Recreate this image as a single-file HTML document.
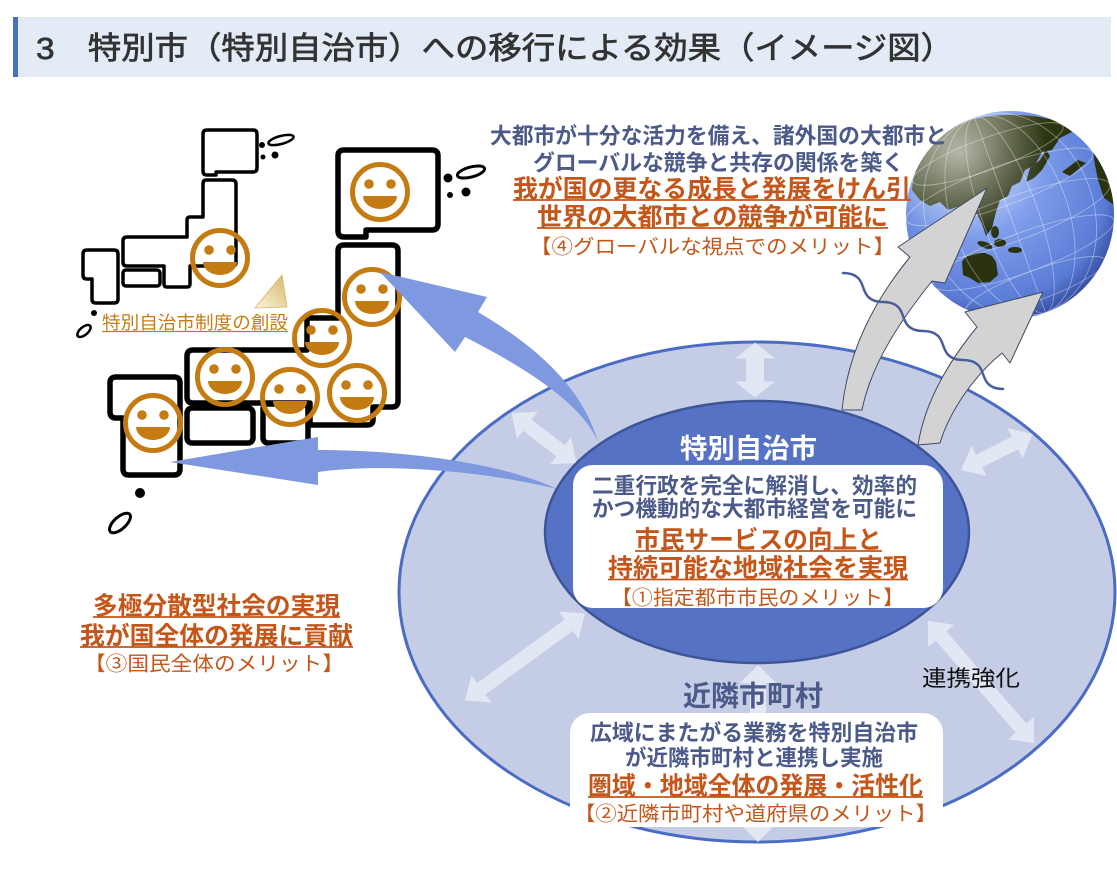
<!DOCTYPE html>
<html lang="ja">
<head>
<meta charset="utf-8">
<title>特別市への移行による効果</title>
<style>
  html,body{margin:0;padding:0;background:#fff;}
  body{width:1117px;height:886px;overflow:hidden;}
  svg{display:block;}
  text{font-family:"Liberation Sans","Noto Sans CJK JP",sans-serif;}
</style>
</head>
<body>
<svg xmlns="http://www.w3.org/2000/svg" width="1117" height="886" viewBox="0 0 1117 886">
  <defs>
    <radialGradient id="ocean" cx="0.42" cy="0.38" r="0.7" fx="0.32" fy="0.28">
      <stop offset="0" stop-color="#A9C0F4"/>
      <stop offset="0.4" stop-color="#7E9DEA"/>
      <stop offset="0.8" stop-color="#5A7CD6"/>
      <stop offset="1" stop-color="#22378A"/>
    </radialGradient>
    <radialGradient id="hl" cx="0.26" cy="0.2" r="0.42">
      <stop offset="0" stop-color="#ffffff" stop-opacity="0.6"/>
      <stop offset="1" stop-color="#ffffff" stop-opacity="0"/>
    </radialGradient>
    <linearGradient id="land" x1="0" y1="0" x2="1" y2="1">
      <stop offset="0" stop-color="#6A6E4C"/>
      <stop offset="0.45" stop-color="#2F3814"/>
      <stop offset="1" stop-color="#1C240A"/>
    </linearGradient>
    <linearGradient id="tri" x1="0" y1="1" x2="1" y2="0">
      <stop offset="0" stop-color="#FBF4DE"/>
      <stop offset="1" stop-color="#D6B868"/>
    </linearGradient>
    <clipPath id="gc"><circle cx="1010" cy="215" r="104"/></clipPath>
    <g id="sm">
      <circle cx="0" cy="0" r="27.5" fill="none" stroke="#C47B12" stroke-width="5"/>
      <circle cx="-11" cy="-8" r="4.8" fill="#C47B12"/>
      <circle cx="11" cy="-8" r="4.8" fill="#C47B12"/>
      <path d="M-17,4 A17,13 0 0 0 17,4 Z" fill="#C47B12"/>
    </g>
  </defs>

  <!-- Header -->
  <rect x="13" y="17" width="1098" height="60" fill="#E3EBF7"/>
  <rect x="13" y="17" width="5" height="60" fill="#4A72B8"/>
  <text x="36" y="59" font-size="31" fill="#333" stroke="#333" stroke-width="0.7" textLength="918" lengthAdjust="spacingAndGlyphs">3　特別市（特別自治市）への移行による効果（イメージ図）</text>

  <!-- Small top-left map -->
  <g fill="none" stroke="#000" stroke-width="3.5" stroke-linejoin="round">
    <path d="M207,130 H253 Q257,130 257,134 V168 Q257,172 253,172 H216 V175 H207 Q203,175 203,171 V134 Q203,130 207,130 Z"/>
    <path d="M206,180 H232 Q236,180 236,184 V262 Q236,266 232,266 H190 V284 Q190,287 187,287 H167 Q164,287 164,284 V266 H127 Q123,266 123,262 V241 Q123,237 127,237 H187 V220 Q187,217 190,217 H203 V184 Q203,180 206,180 Z"/>
    <rect x="123" y="270" width="37" height="16" rx="3"/>
    <path d="M87,250 H114 Q118,250 118,254 V299 Q118,303 114,303 H96 Q92,303 92,299 V279 H87 Q83,279 83,275 V254 Q83,250 87,250 Z"/>
    <ellipse cx="281" cy="140" rx="13" ry="4" transform="rotate(-15 281 140)" stroke-width="2.5"/>
    <ellipse cx="84" cy="331" rx="8" ry="4" transform="rotate(-40 84 331)" stroke-width="2.5"/>
  </g>
  <g fill="#000">
    <circle cx="262" cy="145" r="3"/>
    <circle cx="263" cy="157" r="2.5"/>
    <circle cx="275" cy="155" r="3.5"/>
    <circle cx="94" cy="313" r="3"/>
  </g>

  <!-- Main Japan map -->
  <g fill="none" stroke="#000" stroke-width="5.5" stroke-linejoin="round">
    <path d="M344,150 H432 Q438,150 438,156 V224 Q438,230 432,230 H366 V237 H344 Q338,237 338,231 V156 Q338,150 344,150 Z"/>
    <path d="M344,245 H392 Q398,245 398,251 V401 Q398,407 392,407 H373 V420 Q373,425 367,425 H310 V403 H193 Q187,403 187,397 V356 Q187,350 193,350 H307 V318 H338 V251 Q338,245 344,245 Z"/>
    <rect x="187" y="408" width="66" height="35" rx="5"/>
    <rect x="263" y="404" width="45" height="39" rx="5"/>
    <path d="M116,377 H174 Q180,377 180,383 V469 Q180,475 174,475 H129 Q123,475 123,469 V418 H116 Q110,418 110,412 V383 Q110,377 116,377 Z"/>
    <ellipse cx="471" cy="172" rx="14" ry="5" transform="rotate(-15 471 172)" stroke-width="3"/>
    <ellipse cx="120" cy="523" rx="13" ry="6" transform="rotate(-42 120 523)" stroke-width="3"/>
  </g>
  <g fill="#000">
    <circle cx="448" cy="178" r="4.5"/>
    <circle cx="450" cy="195" r="3"/>
    <circle cx="466" cy="192" r="4.5"/>
    <circle cx="140" cy="493" r="5"/>
  </g>

  <!-- Smileys -->
  <use href="#sm" transform="translate(380,192)"/>
  <use href="#sm" transform="translate(220,258)"/>
  <use href="#sm" transform="translate(372,297)"/>
  <use href="#sm" transform="translate(322,338)"/>
  <use href="#sm" transform="translate(225,377)"/>
  <use href="#sm" transform="translate(290,397)"/>
  <use href="#sm" transform="translate(357,393)"/>
  <use href="#sm" transform="translate(153,423)"/>

  <!-- small triangle + label -->
  <path d="M282,275 L287,307 L255,308 Z" fill="url(#tri)" stroke="#D6B660" stroke-width="0.8"/>
  <text x="102" y="329" font-size="18" fill="#C47D12" textLength="186" lengthAdjust="spacingAndGlyphs">特別自治市制度の創設</text>
  <line x1="102" y1="331.5" x2="288" y2="331.5" stroke="#C47D12" stroke-width="1.2"/>

  <!-- Outer ellipse -->
  <ellipse cx="757" cy="592" rx="358" ry="250" fill="#C5CDE6" stroke="#4A6CC4" stroke-width="3"/>

  <!-- light double arrows -->
  <g fill="#E2E7F4">
    <path transform="translate(755,370) rotate(90)" d="M-27.5,0 L-11.5,-20 L-11.5,-9 L11.5,-9 L11.5,-20 L27.5,0 L11.5,20 L11.5,9 L-11.5,9 L-11.5,20 Z"/>
    <path transform="translate(544,438) rotate(37.6)" d="M-41,0 L-21,-17 L-21,-7 L21,-7 L21,-17 L41,0 L21,17 L21,7 L-21,7 L-21,17 Z"/>
    <path transform="translate(997,452) rotate(-26.6)" d="M-40,0 L-20,-17 L-20,-7 L20,-7 L20,-17 L40,0 L20,17 L20,7 L-20,7 L-20,17 Z"/>
    <path transform="translate(525,657) rotate(-36)" d="M-74,0 L-54,-17 L-54,-7 L54,-7 L54,-17 L74,0 L54,17 L54,7 L-54,7 L-54,17 Z"/>
    <path transform="translate(981,682) rotate(49)" d="M-81,0 L-61,-17 L-61,-7 L61,-7 L61,-17 L81,0 L61,17 L61,7 L-61,7 L-61,17 Z"/>
    <path transform="translate(758,753.5) rotate(90)" d="M-88.5,0 L-70.5,-18 L-70.5,-8 L70.5,-8 L70.5,-18 L88.5,0 L70.5,18 L70.5,8 L-70.5,8 L-70.5,18 Z"/>
  </g>

  <!-- Globe -->
  <circle cx="1010" cy="215" r="104" fill="url(#ocean)"/>
  <g clip-path="url(#gc)">
    <path fill="url(#land)" d="M912,190 C914,160 935,132 970,120 C1000,112 1040,113 1068,125 L1072,132 L1060,138 L1052,150 L1042,152 L1035,165 L1025,170 L1020,182 L1012,186 L1008,196 L1000,200 L996,212 L992,228 L986,236 L982,224 L976,212 L968,214 L960,206 L948,210 L940,202 L930,206 L920,200 Z"/>
    <path fill="#2A3210" d="M1030,168 L1040,160 L1046,150 L1050,156 L1042,170 L1034,178 L1026,182 Z"/>
    <path fill="#2A3210" d="M962,262 C965,255 975,252 985,253 L992,256 L996,262 L998,275 L990,282 L978,283 L970,278 L963,275 Z"/>
    <path fill="#2A3210" d="M1092,145 L1100,138 L1112,150 L1116,175 L1114,205 L1104,198 L1098,180 L1095,165 Z"/>
    <path fill="#2A3210" d="M1062,172 L1078,160 L1086,163 L1070,176 Z"/>
    <g fill="#2A3210">
      <ellipse cx="985" cy="245" rx="8" ry="3" transform="rotate(20 985 245)"/>
      <ellipse cx="1000" cy="243" rx="6" ry="4"/>
      <ellipse cx="1015" cy="250" rx="7" ry="3"/>
      <ellipse cx="995" cy="232" rx="4" ry="6"/>
    </g>
    <g fill="none" stroke="#ffffff" stroke-opacity="0.38" stroke-width="0.9" transform="rotate(-20 1010 215)">
      <ellipse cx="1010" cy="215" rx="28" ry="104"/>
      <ellipse cx="1010" cy="215" rx="58" ry="104"/>
      <ellipse cx="1010" cy="215" rx="84" ry="104"/>
      <line x1="1010" y1="111" x2="1010" y2="319"/>
      <ellipse cx="1010" cy="150" rx="80" ry="16"/>
      <ellipse cx="1010" cy="185" rx="99" ry="20"/>
      <ellipse cx="1010" cy="220" rx="104" ry="22"/>
      <ellipse cx="1010" cy="255" rx="96" ry="20"/>
      <ellipse cx="1010" cy="290" rx="74" ry="15"/>
    </g>
    <circle cx="1010" cy="215" r="104" fill="url(#hl)"/>
  </g>

  <!-- Gray arrows -->
  <g fill="#D3D3D3" stroke="#3F4A63" stroke-width="1" stroke-linejoin="round">
    <path d="M987,188 L945,283 L932,281 C905,315 872,360 862,410 L842,410 C848,350 875,300 910,257 L898,247 Z"/>
    <path d="M1043,292 L1010,363 L1002,353 C975,375 950,410 940,443 L918,445 C925,400 950,360 977,327 L965,312 Z"/>
  </g>

  <!-- wave -->
  <path d="M843,273 c15,0 18,8 20,14 s5,15 20,15 c15,0 18,8 20,14 s5,15 20,15 c15,0 18,8 20,14 s5,15 20,15 c15,0 18,8 20,14 s5,15 20,15" fill="none" stroke="#4B5E9C" stroke-width="2.5" stroke-linecap="round"/>

  <!-- Blue arrows -->
  <g fill="#7F99E0">
    <path d="M380,272 L487,297 L478,312 C525,340 580,380 598,442 C585,410 540,375 465,337 L455,352 Z"/>
    <path d="M170,462 L318,437 L318,450 C400,450 500,462 557,489 C480,470 380,463 318,472 L318,485 Z"/>
  </g>

  <!-- Inner ellipse -->
  <ellipse cx="757" cy="532" rx="212" ry="131" fill="#5672C4" stroke="#3D5497" stroke-width="2.5"/>
  <text x="680" y="458" font-size="27" font-weight="bold" fill="#ffffff" textLength="137" lengthAdjust="spacingAndGlyphs">特別自治市</text>
  <rect x="573" y="465" width="370" height="143" rx="20" fill="#ffffff"/>
  <text x="592" y="493.4" font-size="22" font-weight="bold" fill="#4B5A88" textLength="325" lengthAdjust="spacingAndGlyphs">二重行政を完全に解消し、効率的</text>
  <text x="592" y="516.4" font-size="22" font-weight="bold" fill="#4B5A88" textLength="325" lengthAdjust="spacingAndGlyphs">かつ機動的な大都市経営を可能に</text>
  <text x="635" y="548.5" font-size="25" font-weight="bold" fill="#C4561A" textLength="247" lengthAdjust="spacingAndGlyphs">市民サービスの向上と</text>
  <line x1="635" y1="551" x2="882" y2="551" stroke="#C4561A" stroke-width="1.8"/>
  <text x="608" y="576.5" font-size="25" font-weight="bold" fill="#C4561A" textLength="300" lengthAdjust="spacingAndGlyphs">持続可能な地域社会を実現</text>
  <line x1="608" y1="579.5" x2="908" y2="579.5" stroke="#C4561A" stroke-width="1.8"/>
  <text x="611" y="604.6" font-size="20" fill="#C4561A" textLength="293" lengthAdjust="spacingAndGlyphs">【①指定都市市民のメリット】</text>

  <!-- Bottom -->
  <text x="683" y="705.6" font-size="28" font-weight="bold" fill="#4B5A88" textLength="140" lengthAdjust="spacingAndGlyphs">近隣市町村</text>
  <rect x="570" y="713" width="373" height="114" rx="20" fill="#ffffff"/>
  <text x="590" y="740.4" font-size="22" font-weight="bold" fill="#4B5A88" textLength="328" lengthAdjust="spacingAndGlyphs">広域にまたがる業務を特別自治市</text>
  <text x="625" y="765.4" font-size="22" font-weight="bold" fill="#4B5A88" textLength="258" lengthAdjust="spacingAndGlyphs">が近隣市町村と連携し実施</text>
  <text x="588" y="794.5" font-size="25" font-weight="bold" fill="#C4561A" textLength="335" lengthAdjust="spacingAndGlyphs">圏域・地域全体の発展・活性化</text>
  <line x1="588" y1="797" x2="923" y2="797" stroke="#C4561A" stroke-width="1.8"/>
  <text x="574" y="820.6" font-size="20" fill="#C4561A" textLength="363" lengthAdjust="spacingAndGlyphs">【②近隣市町村や道府県のメリット】</text>

  <text x="922" y="686" font-size="22" fill="#111" textLength="98" lengthAdjust="spacingAndGlyphs">連携強化</text>

  <!-- Top text -->
  <text x="490" y="143.4" font-size="22" font-weight="bold" fill="#4B5A88" textLength="457" lengthAdjust="spacingAndGlyphs">大都市が十分な活力を備え、諸外国の大都市と</text>
  <text x="533" y="170.4" font-size="22" font-weight="bold" fill="#4B5A88" textLength="371" lengthAdjust="spacingAndGlyphs">グローバルな競争と共存の関係を築く</text>
  <text x="513" y="197.5" font-size="25" font-weight="bold" fill="#C4561A" textLength="398" lengthAdjust="spacingAndGlyphs">我が国の更なる成長と発展をけん引</text>
  <line x1="513" y1="200" x2="911" y2="200" stroke="#C4561A" stroke-width="1.8"/>
  <text x="537" y="225.5" font-size="25" font-weight="bold" fill="#C4561A" textLength="351" lengthAdjust="spacingAndGlyphs">世界の大都市との競争が可能に</text>
  <line x1="537" y1="228" x2="888" y2="228" stroke="#C4561A" stroke-width="1.8"/>
  <text x="530" y="253.6" font-size="20" fill="#C4561A" textLength="365" lengthAdjust="spacingAndGlyphs">【④グローバルな視点でのメリット】</text>

  <!-- Left text -->
  <text x="93" y="614.5" font-size="25" font-weight="bold" fill="#C4561A" textLength="247" lengthAdjust="spacingAndGlyphs">多極分散型社会の実現</text>
  <line x1="93" y1="617" x2="340" y2="617" stroke="#C4561A" stroke-width="1.8"/>
  <text x="80" y="644.5" font-size="25" font-weight="bold" fill="#C4561A" textLength="273" lengthAdjust="spacingAndGlyphs">我が国全体の発展に貢献</text>
  <line x1="80" y1="647" x2="353" y2="647" stroke="#C4561A" stroke-width="1.8"/>
  <text x="84" y="670.6" font-size="20" fill="#C4561A" textLength="260" lengthAdjust="spacingAndGlyphs">【③国民全体のメリット】</text>
</svg>
</body>
</html>
